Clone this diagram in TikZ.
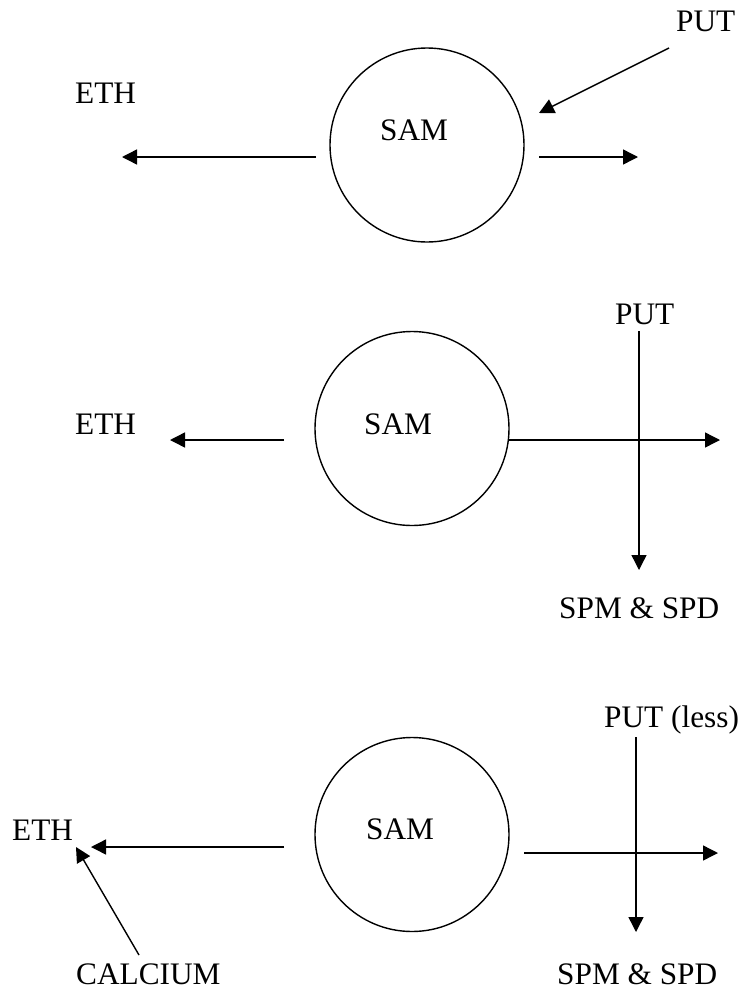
\documentclass[tikz,border=0pt]{standalone}
\usepackage{fontspec}
\setmainfont{Liberation Serif}
\usetikzlibrary{arrows.meta}
\begin{document}
\begin{tikzpicture}[x=1pt,y=-1pt,
  lbl/.style={anchor=base west,inner sep=0pt,font=\fontsize{31.3}{37}\selectfont},
  ring/.style={circle,draw,line width=1.4pt,minimum size=194pt,inner sep=0pt},
  arr/.style={line width=1.4pt,-{Triangle[length=15pt,width=15pt]}},
  ln/.style={line width=1.4pt}]
\useasboundingbox (0,0) rectangle (744,991);
% ---------- panel 1 ----------
\node[ring] (c1) at (427,145) {};
\node[lbl] (sam1) at (380,140) {SAM};
\node[lbl] (eth1) at (75,103) {ETH};
\node[lbl] (put1) at (676,31) {PUT};
\coordinate (l1s) at (316,157);
\coordinate (l1e) at (122,157);
\coordinate (r1s) at (539,157);
\coordinate (r1e) at (638,157);
\coordinate (p1s) at (669,48);
\coordinate (p1e) at (539,113);
\draw[arr] (l1s) -- (l1e);
\draw[arr] (r1s) -- (r1e);
\draw[arr] (p1s) -- (p1e);
% ---------- panel 2 ----------
\node[ring] (c2) at (412,428.5) {};
\node[lbl] (sam2) at (364,434) {SAM};
\node[lbl] (eth2) at (75,434) {ETH};
\node[lbl] (put2) at (615,324) {PUT};
\node[lbl] (spm2) at (559,618) {SPM \& SPD};
\coordinate (l2s) at (284,440);
\coordinate (l2e) at (170,440);
\coordinate (r2s) at (509,440);
\coordinate (r2e) at (720,440);
\coordinate (v2s) at (639,331);
\coordinate (v2e) at (639,570);
\draw[arr] (l2s) -- (l2e);
\draw[arr] (r2s) -- (r2e);
\draw[arr] (v2s) -- (v2e);
% ---------- panel 3 ----------
\node[ring] (c3) at (412,834.5) {};
\node[lbl] (sam3) at (366,839) {SAM};
\node[lbl] (eth3) at (12,840) {ETH};
\node[lbl] (put3) at (604,727) {PUT (less)};
\node[lbl] (spm3) at (557,984) {SPM \& SPD};
\node[lbl] (cal3) at (76,984) {CALCIUM};
\coordinate (l3s) at (284,847);
\coordinate (l3e) at (91,847);
\coordinate (r3s) at (524,853);
\coordinate (r3e) at (718,853);
\coordinate (v3s) at (636,737);
\coordinate (v3e) at (636,932);
\coordinate (k3s) at (139,955);
\coordinate (k3e) at (76,847);
\draw[arr] (l3s) -- (l3e);
\draw[arr] (r3s) -- (r3e);
\draw[arr] (v3s) -- (v3e);
\draw[arr] (k3s) -- (k3e);
\end{tikzpicture}
\end{document}
